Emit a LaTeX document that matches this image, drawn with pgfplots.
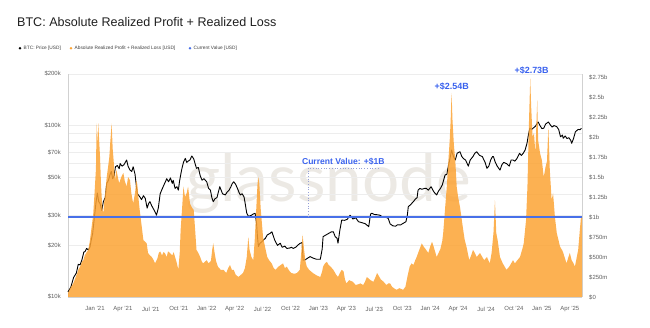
\documentclass[border=0pt]{standalone}
\usepackage{pgfplots}
\pgfplotsset{compat=1.18}
\usepackage{fontspec}
\setmainfont{Liberation Sans}
\newfontfamily\wmfont{Lato}
\definecolor{btcorange}{RGB}{252,163,52}
\definecolor{cvblue}{RGB}{72,112,232}
\definecolor{annblue}{RGB}{58,98,238}
\definecolor{wmgray}{RGB}{236,233,228}
\definecolor{ticktext}{RGB}{95,95,95}
\definecolor{bracket}{RGB}{150,160,215}

\pgfplotstableread{
m b
-2.9 0.05
-2.7 0.10
-2.5 0.14
-2.33 0.17
-2.1 0.24
-1.9 0.30
-1.8 0.34
-1.6 0.38
-1.4 0.44
-1.25 0.46
-1.1 0.52
-0.9 0.56
-0.72 0.59
-0.55 0.70
-0.36 0.88
-0.2 1.02
-0.05 1.30
0.1 1.60
0.18 2.17
0.28 1.90
0.35 2.17
0.45 1.95
0.54 1.75
0.65 1.40
0.72 1.25
0.8 1.10
0.9 1.05
1.0 1.20
1.1 1.30
1.26 1.50
1.4 1.62
1.54 1.75
1.65 1.95
1.79 2.17
1.9 1.85
2.0 1.71
2.15 1.46
2.3 1.59
2.45 1.50
2.6 1.42
2.7 1.46
2.9 1.52
3.05 1.55
3.2 1.45
3.4 1.38
3.55 1.50
3.76 1.46
3.9 1.30
4.1 1.17
4.3 1.30
4.45 1.46
4.55 1.40
4.7 1.20
4.8 1.09
5.0 0.90
5.2 0.71
5.4 0.69
5.55 0.67
5.7 0.55
5.9 0.52
6.1 0.50
6.3 0.46
6.45 0.42
6.7 0.48
6.85 0.55
7.0 0.57
7.2 0.52
7.35 0.56
7.5 0.55
7.7 0.50
7.85 0.57
8.05 0.55
8.3 0.52
8.45 0.56
8.6 0.50
8.8 0.42
8.95 0.34
9.1 0.55
9.2 0.84
9.35 1.10
9.5 1.38
9.67 1.25
9.85 1.30
10.0 1.38
10.2 1.17
10.4 1.12
10.6 1.09
10.75 0.85
10.9 0.59
11.1 0.55
11.3 0.50
11.45 0.45
11.6 0.42
11.8 0.44
12.0 0.46
12.2 0.42
12.45 0.45
12.6 0.60
12.7 0.67
12.85 0.55
13.0 0.45
13.2 0.38
13.5 0.34
13.8 0.34
14.1 0.30
14.3 0.36
14.5 0.40
14.7 0.34
14.9 0.34
15.1 0.28
15.4 0.25
15.6 0.27
15.9 0.30
16.1 0.36
16.3 0.50
16.47 0.75
16.6 0.59
16.8 0.50
17.0 0.46
17.15 0.70
17.3 1.05
17.45 1.40
17.54 1.50
17.65 1.42
17.8 1.10
17.9 0.96
18.05 0.75
18.26 0.63
18.5 0.50
18.7 0.46
18.98 0.42
19.2 0.36
19.4 0.34
19.7 0.38
19.95 0.40
20.2 0.42
20.4 0.36
20.6 0.38
20.85 0.33
21.1 0.30
21.4 0.29
21.7 0.30
22.0 0.34
22.15 0.55
22.3 0.78
22.45 0.60
22.6 0.45
22.75 0.38
23.0 0.34
23.4 0.30
23.8 0.27
24.2 0.25
24.4 0.32
24.5 0.38
24.7 0.42
24.9 0.44
25.1 0.40
25.3 0.38
25.6 0.34
25.9 0.28
26.1 0.25
26.3 0.30
26.5 0.34
26.7 0.32
26.85 0.22
27.0 0.17
27.3 0.21
27.5 0.20
27.7 0.19
28.0 0.15
28.3 0.16
28.5 0.17
28.8 0.15
29.0 0.19
29.2 0.25
29.4 0.23
29.6 0.21
29.9 0.19
30.1 0.24
30.3 0.30
30.5 0.26
30.7 0.22
31.0 0.19
31.3 0.15
31.5 0.17
31.7 0.17
31.9 0.13
32.1 0.11
32.4 0.09
32.7 0.11
32.9 0.10
33.1 0.09
33.35 0.13
33.55 0.25
33.8 0.38
34.0 0.42
34.2 0.40
34.4 0.46
34.55 0.50
34.8 0.58
35.1 0.67
35.3 0.63
35.5 0.60
35.8 0.55
36.0 0.63
36.2 0.69
36.4 0.62
36.7 0.50
36.9 0.55
37.1 0.60
37.3 0.70
37.4 0.80
37.6 1.10
37.8 1.40
37.96 1.71
38.1 1.96
38.2 2.20
38.3 2.55
38.4 2.21
38.55 1.90
38.7 1.71
38.85 1.38
39.0 1.25
39.2 1.13
39.5 0.88
39.7 0.72
39.9 0.63
40.2 0.46
40.4 0.52
40.6 0.59
40.8 0.55
41.0 0.50
41.35 0.55
41.6 0.50
41.8 0.46
42.1 0.50
42.4 0.42
42.6 0.55
42.8 0.80
42.96 1.21
43.1 0.80
43.25 0.71
43.5 0.50
43.8 0.42
44.0 0.38
44.2 0.34
44.5 0.38
44.7 0.42
44.9 0.46
45.1 0.42
45.3 0.45
45.65 0.50
45.9 0.60
46.05 0.67
46.3 0.96
46.45 1.38
46.6 2.13
46.75 2.73
46.85 2.38
47.0 2.00
47.15 2.05
47.3 1.80
47.5 2.46
47.6 1.96
47.8 1.80
48.0 1.71
48.2 1.50
48.4 1.63
48.55 1.70
48.7 2.13
48.85 1.59
49.05 1.21
49.2 1.30
49.4 1.00
49.6 0.80
49.95 0.63
50.2 0.58
50.3 0.55
50.65 0.42
50.85 0.50
51.0 0.55
51.2 0.46
51.4 0.42
51.55 0.38
51.75 0.50
51.9 0.59
52.05 0.80
52.2 1.00
52.31 1.00
}\rplTable

\pgfplotstableread{
m p
-2.9 10700
-2.6 11400
-2.3 13000
-2.0 13800
-1.8 15500
-1.6 15400
-1.4 16500
-1.2 18300
-1.07 18400
-0.9 19200
-0.7 18800
-0.54 19600
-0.4 21500
-0.25 23500
-0.1 28000
0.1 35300
0.25 40400
0.4 36000
0.55 35000
0.72 32000
0.9 36000
1.1 38000
1.26 46000
1.45 48000
1.6 51500
1.75 54000
1.9 49000
2.05 51000
2.2 57500
2.4 58500
2.6 56000
2.7 60000
2.9 58000
3.1 59000
3.4 63000
3.55 58000
3.76 55000
3.95 54000
4.1 57500
4.3 52000
4.45 44000
4.55 40000
4.8 38500
5.0 37000
5.2 39000
5.4 37600
5.6 33000
5.75 35000
5.9 36000
6.1 34000
6.3 32500
6.5 31000
6.6 30000
6.8 33000
7.0 40000
7.2 42500
7.4 45000
7.6 47500
7.7 49000
7.9 47000
8.1 49500
8.3 46000
8.4 48000
8.6 43000
8.8 44000
8.95 42000
9.1 48000
9.3 55000
9.5 61000
9.7 64400
9.85 61000
10.0 62000
10.2 63000
10.4 66500
10.6 64000
10.75 60000
10.9 56300
11.1 57000
11.3 51000
11.5 48000
11.7 49000
12.0 47000
12.2 43000
12.4 42000
12.55 38000
12.7 36000
12.9 37500
13.1 38000
13.4 44000
13.55 42000
13.7 40000
14.0 39400
14.2 41000
14.4 42000
14.6 44000
14.75 46000
14.9 47000
15.1 45500
15.3 43000
15.45 41000
15.6 39400
15.8 40000
16.0 38500
16.1 36000
16.3 30800
16.5 29500
16.8 30000
17.0 30500
17.2 30800
17.35 27000
17.45 22500
17.55 19700
17.7 20500
17.9 21000
18.1 21500
18.3 22000
18.5 23000
18.8 23500
19.0 24000
19.3 21500
19.6 20000
19.9 20600
20.1 19500
20.4 19800
20.6 19200
20.9 19300
21.1 19500
21.3 19200
21.55 19500
21.8 20100
22.0 20500
22.25 20800
22.35 16400
22.6 16500
22.8 16800
23.1 17200
23.5 16800
23.8 16600
24.2 16600
24.4 19000
24.5 22500
24.8 23000
25.1 23500
25.4 24000
25.6 24000
25.8 22500
26.0 22000
26.1 20600
26.3 24500
26.5 28100
26.8 28000
27.1 28400
27.4 30000
27.7 28500
28.0 29000
28.3 27500
28.6 27200
29.0 26800
29.2 26300
29.4 25700
29.6 30500
29.75 30800
30.0 30300
30.3 30200
30.6 30000
30.9 29300
31.2 29300
31.5 28700
31.7 26700
32.0 26000
32.3 25900
32.5 26400
32.8 26300
33.1 26900
33.4 27500
33.55 30000
33.65 33600
33.9 34600
34.2 36000
34.4 37200
34.6 38000
34.7 42000
34.9 43000
35.1 42500
35.4 43000
35.6 43000
35.8 42000
36.1 44000
36.4 41000
36.7 39400
36.9 41500
37.1 43000
37.3 45000
37.6 51500
37.8 52000
37.95 58000
38.1 63000
38.3 72000
38.5 66000
38.7 63000
38.9 69000
39.2 70400
39.4 66000
39.6 64000
39.8 63000
40.1 58000
40.3 63000
40.6 66000
40.8 69000
41.0 70400
41.3 67000
41.6 66000
41.9 61000
42.1 56300
42.3 58000
42.5 63000
42.7 66000
42.8 65900
43.0 61000
43.2 58000
43.5 55000
43.7 59000
43.9 61000
44.2 60000
44.5 58000
44.7 63000
44.9 63000
45.1 62000
45.3 64000
45.6 68900
45.8 67000
46.0 69000
46.2 72000
46.4 78800
46.55 88000
46.7 96500
46.9 95000
47.1 97000
47.3 99000
47.6 105000
47.8 100000
48.0 96000
48.2 96500
48.4 102000
48.6 104000
48.7 105000
48.9 101000
49.1 98000
49.3 100000
49.6 98600
49.8 95000
50.0 86000
50.2 88000
50.3 84300
50.5 87000
50.7 84000
50.9 85000
51.1 82000
51.2 78800
51.4 84000
51.6 92000
51.7 93000
51.9 95000
52.1 94500
52.25 96500
}\priceTable

\begin{document}
\begin{tikzpicture}
\path[use as bounding box] (0bp,0bp) rectangle (650bp,328bp);
% title
\node[anchor=base west, inner sep=0pt, text=black!88] at (17bp,301.3bp)
  {\fontsize{12.6}{14}\selectfont BTC: Absolute Realized Profit + Realized Loss};
% legend
\fill[black] (20bp,279.7bp) circle (1.3bp);
\node[anchor=west, inner sep=0pt, text=black!75] at (23.5bp,279.7bp) {\fontsize{4.8}{5.5}\selectfont BTC: Price [USD]};
\fill[btcorange] (71bp,279.7bp) circle (1.3bp);
\node[anchor=west, inner sep=0pt, text=black!75] at (74.5bp,279.7bp) {\fontsize{4.8}{5.5}\selectfont Absolute Realized Profit + Realized Loss [USD]};
\fill[cvblue] (190bp,279.7bp) circle (1.3bp);
\node[anchor=west, inner sep=0pt, text=black!75] at (193.5bp,279.7bp) {\fontsize{4.8}{5.5}\selectfont Current Value [USD]};
% watermark
\node[anchor=base west, inner sep=0pt, text=wmgray] at (186bp,126.3bp) {\wmfont\fontsize{66}{70}\selectfont glassnode};

\begin{axis}[
  at={(68bp,31bp)}, anchor=south west, scale only axis,
  width=514bp, height=223bp,
  ymode=log, ymin=10000, ymax=200000,
  xmin=-2.9, xmax=52.31,
  axis y line*=left, axis x line*=bottom,
  axis line style={black!18, line width=0.6bp},
  ytick={10000,20000,30000,50000,70000,100000,200000},
  yticklabels={\$10k,\$20k,\$30k,\$50k,\$70k,\$100k,\$200k},
  minor ytick={40000,60000,80000,90000},
  ymajorgrids, yminorgrids,
  major grid style={black!7, line width=0.5bp},
  minor grid style={black!7, line width=0.5bp},
  xtick={0,3,...,51},
  xticklabels={Jan '21,Apr '21,Jul '21,Oct '21,Jan '22,Apr '22,Jul '22,Oct '22,Jan '23,Apr '23,Jul '23,Oct '23,Jan '24,Apr '24,Jul '24,Oct '24,Jan '25,Apr '25},
  major tick length=0pt, minor tick length=0pt,
  tick label style={font=\fontsize{6}{7}\selectfont, text=ticktext, inner sep=0pt},
  yticklabel style={anchor=east, xshift=-7bp},
  xticklabel style={anchor=north, yshift=-9.5bp},
  clip=false,
]
\addplot[black, line width=0.9bp, line join=round] table[x=m, y=p] {\priceTable};
\end{axis}

\begin{axis}[
  at={(68bp,31bp)}, anchor=south west, scale only axis,
  width=514bp, height=223bp,
  ymin=0, ymax=2.7875,
  xmin=-2.9, xmax=52.31,
  axis y line*=right, axis x line=none,
  axis line style={black!18, line width=0.6bp},
  ytick={0,0.25,0.5,0.75,1,1.25,1.5,1.75,2,2.25,2.5,2.75},
  yticklabels={\$0,\$250m,\$500m,\$750m,\$1b,\$1.25b,\$1.5b,\$1.75b,\$2b,\$2.25b,\$2.5b,\$2.75b},
  major tick length=0pt,
  tick label style={font=\fontsize{6}{7}\selectfont, text=ticktext, inner sep=0pt},
  yticklabel style={anchor=west, xshift=7bp},
  clip=false,
]
\addplot[draw=none, fill=btcorange, fill opacity=0.85] table[x=m, y=b] {\rplTable} \closedcycle;
\addplot[cvblue, line width=1.1bp] coordinates {(-2.9,1) (52.31,1)};
\addplot[bracket, dotted, line width=0.7bp] coordinates {(30.43,1.61) (22.88,1.61) (22.88,1.0)};
\node[text=annblue, font=\bfseries\fontsize{8.6}{10}\selectfont, inner sep=0pt] at (axis cs:26.67,1.69) {Current Value: +\$1B};
\node[text=annblue, font=\bfseries\fontsize{9}{10}\selectfont, inner sep=0pt] at (axis cs:38.31,2.63) {+\$2.54B};
\node[text=annblue, font=\bfseries\fontsize{9}{10}\selectfont, inner sep=0pt] at (axis cs:46.9,2.83) {+\$2.73B};
\end{axis}
\end{tikzpicture}
\end{document}
